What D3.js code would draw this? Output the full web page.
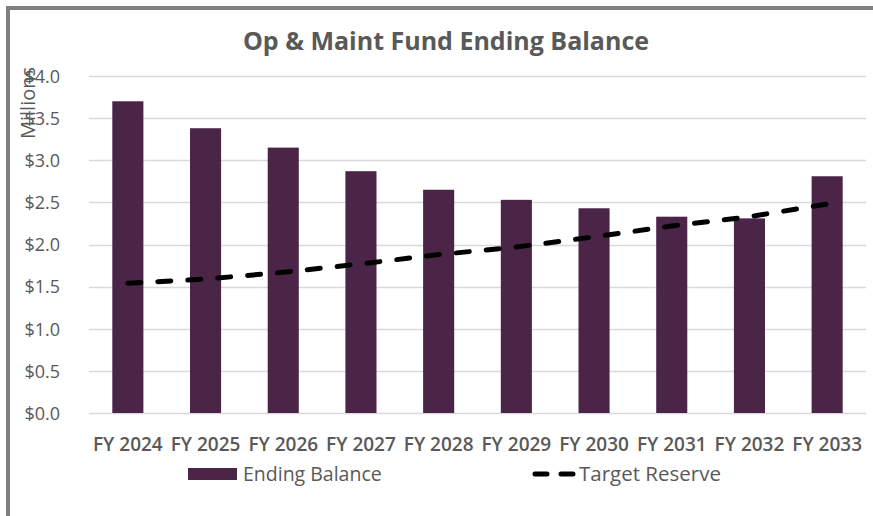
<!DOCTYPE html>
<html lang="en">
<head>
<meta charset="UTF-8">
<title>Op & Maint Fund Ending Balance</title>
<script src="https://d3js.org/d3.v7.min.js"></script>
<style>
    body { margin: 0; background: #fff; }
    svg { display: block; }
    text { font-family: 'Open Sans', sans-serif; fill: #595959; }
    .grid line { stroke: #d9d9d9; stroke-width: 1.5; }
</style>
</head>
<body>
<div id="chart"></div>
<script>
    const years = ["FY 2024", "FY 2025", "FY 2026", "FY 2027", "FY 2028", "FY 2029", "FY 2030", "FY 2031", "FY 2032", "FY 2033"];
    const endingBalance = [3.70, 3.38, 3.15, 2.87, 2.65, 2.53, 2.43, 2.33, 2.31, 2.81];
    const targetReserve = [1.54, 1.59, 1.67, 1.77, 1.88, 1.97, 2.09, 2.22, 2.33, 2.48];
    const yTicks = [0, 0.5, 1.0, 1.5, 2.0, 2.5, 3.0, 3.5, 4.0];

    const W = 873, H = 516;
    const margin = { top: 76, right: 7, bottom: 103, left: 89 };

    const svg = d3.select("#chart").append("svg")
        .attr("width", W)
        .attr("height", H);

    // outer frame (left + top only)
    svg.append("path")
        .attr("d", `M8,${H} V8 H${W}`)
        .attr("fill", "none")
        .attr("stroke", "#808080")
        .attr("stroke-width", 4);

    const x = d3.scaleBand()
        .domain(years)
        .range([margin.left, W - margin.right])
        .paddingInner(0.6)
        .paddingOuter(0.3);

    const y = d3.scaleLinear()
        .domain([0, 4])
        .range([H - margin.bottom, margin.top]);

    // grid
    svg.append("g").attr("class", "grid")
        .selectAll("line")
        .data(yTicks)
        .join("line")
        .attr("x1", margin.left)
        .attr("x2", W - margin.right)
        .attr("y1", d => Math.round(y(d)) + 0.5)
        .attr("y2", d => Math.round(y(d)) + 0.5);

    // y axis labels
    const yAxis = svg.append("g")
        .attr("transform", `translate(${margin.left - 26},0)`)
        .call(d3.axisLeft(y).tickValues(yTicks).tickSize(0).tickFormat(d => "$" + d.toFixed(1)));
    yAxis.select(".domain").remove();
    yAxis.selectAll("text").attr("font-size", 18).attr("fill", "#595959").attr("dx", 0).attr("dy", "0.35em")
        .style("font-family", "'Open Sans', sans-serif");

    // bars
    svg.append("g")
        .selectAll("rect")
        .data(endingBalance)
        .join("rect")
        .attr("x", (d, i) => x(years[i]))
        .attr("y", d => y(d))
        .attr("width", x.bandwidth())
        .attr("height", d => y(0) - y(d))
        .attr("fill", "#4a2548");

    // target reserve line
    const line = d3.line()
        .x((d, i) => x(years[i]) + x.bandwidth() / 2)
        .y(d => y(d));
    svg.append("path")
        .datum(targetReserve)
        .attr("d", line)
        .attr("fill", "none")
        .attr("stroke", "#000")
        .attr("stroke-width", 5)
        .attr("stroke-linecap", "round")
        .attr("stroke-dasharray", "13 17");

    // x axis labels
    const xAxis = svg.append("g")
        .attr("transform", `translate(0,${y(0)})`)
        .call(d3.axisBottom(x).tickSize(0).tickPadding(25));
    xAxis.select(".domain").remove();
    xAxis.selectAll("text").attr("font-size", 19).attr("fill", "#595959").attr("font-weight", 600)
        .style("font-family", "'Open Sans', sans-serif");

    // y axis title
    svg.append("text")
        .attr("transform", `translate(35,103) rotate(-90)`)
        .attr("text-anchor", "middle")
        .attr("font-size", 20)
        .text("Millions");

    // title
    svg.append("text")
        .attr("x", 446)
        .attr("y", 50)
        .attr("text-anchor", "middle")
        .attr("font-size", 25)
        .attr("font-weight", "bold")
        .text("Op & Maint Fund Ending Balance");

    // legend
    const lg = svg.append("g");
    lg.append("rect")
        .attr("x", 188).attr("y", 468)
        .attr("width", 49).attr("height", 12)
        .attr("fill", "#4a2548");
    lg.append("text")
        .attr("x", 243).attr("y", 481)
        .attr("font-size", 19.5)
        .text("Ending Balance");
    lg.append("line")
        .attr("x1", 535).attr("x2", 573)
        .attr("y1", 474).attr("y2", 474)
        .attr("stroke", "#000")
        .attr("stroke-width", 5)
        .attr("stroke-linecap", "round")
        .attr("stroke-dasharray", "12 14");
    lg.append("text")
        .attr("x", 579).attr("y", 481)
        .attr("font-size", 20.5)
        .text("Target Reserve");
</script>
</body>
</html>
